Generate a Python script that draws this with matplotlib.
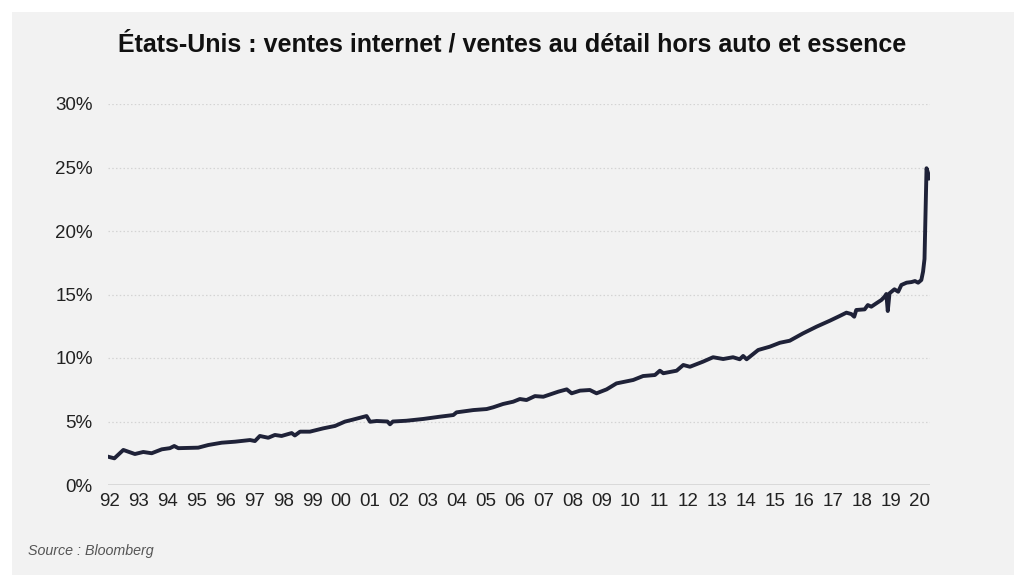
import matplotlib.pyplot as plt
from matplotlib.patches import Rectangle

# monthly-ish readings: decimal year, share of internet sales in %
dates = [1992.00, 1992.22, 1992.53, 1992.93, 1993.22, 1993.51, 1993.86, 1994.14, 1994.29, 1994.43,
         1995.12, 1995.47, 1995.93, 1996.39, 1996.91, 1997.08, 1997.25, 1997.54, 1997.77, 1998.00,
         1998.35, 1998.46, 1998.64, 1998.98, 1999.44, 1999.85, 2000.19, 2000.42, 2000.94, 2001.06,
         2001.29, 2001.66, 2001.75, 2001.85, 2002.32, 2002.90, 2003.48, 2003.94, 2004.05, 2004.63,
         2005.09, 2005.32, 2005.66, 2006.01, 2006.24, 2006.47, 2006.76, 2007.05, 2007.57, 2007.86,
         2008.03, 2008.32, 2008.66, 2008.89, 2009.24, 2009.58, 2010.16, 2010.50, 2010.91, 2011.08,
         2011.20, 2011.66, 2011.89, 2012.12, 2012.57, 2012.92, 2013.27, 2013.61, 2013.84, 2013.96,
         2014.08, 2014.48, 2014.88, 2015.23, 2015.57, 2016.03, 2016.50, 2016.96, 2017.30, 2017.53,
         2017.70, 2017.80, 2017.87, 2018.16, 2018.27, 2018.39, 2018.56, 2018.74, 2018.85, 2018.91,
         2018.96, 2019.02, 2019.19, 2019.32, 2019.43, 2019.61, 2019.78, 2019.90, 2020.01, 2020.12,
         2020.18, 2020.23, 2020.30, 2020.41]
share = [2.23, 2.10, 2.76, 2.44, 2.60, 2.50, 2.81, 2.90, 3.07, 2.90,
         2.94, 3.15, 3.33, 3.41, 3.54, 3.46, 3.86, 3.72, 3.94, 3.86,
         4.09, 3.90, 4.20, 4.20, 4.46, 4.65, 4.99, 5.12, 5.43, 4.98,
         5.04, 5.00, 4.78, 5.00, 5.06, 5.20, 5.38, 5.51, 5.72, 5.90,
         5.98, 6.12, 6.38, 6.56, 6.77, 6.69, 7.00, 6.95, 7.35, 7.53,
         7.22, 7.43, 7.48, 7.22, 7.53, 8.00, 8.27, 8.58, 8.66, 9.00,
         8.80, 9.00, 9.45, 9.31, 9.71, 10.06, 9.92, 10.06, 9.90, 10.16,
         9.90, 10.63, 10.89, 11.20, 11.36, 11.94, 12.47, 12.94, 13.31, 13.57,
         13.46, 13.25, 13.78, 13.83, 14.17, 14.04, 14.30, 14.57, 14.83, 15.04,
         13.70, 15.09, 15.41, 15.22, 15.75, 15.93, 15.98, 16.06, 15.93, 16.14,
         16.80, 17.80, 24.94, 24.15]

years = list(range(1992, 2021))
year_labels = ["%02d" % (y % 100) for y in years]
y_ticks = [0, 5, 10, 15, 20, 25, 30]

bg = "#f2f2f2"
plt.rcParams["font.family"] = ["Liberation Sans", "DejaVu Sans"]

fig = plt.figure(figsize=(10.24, 5.82), dpi=100, facecolor="white")
# grey card behind the chart
fig.patches.append(Rectangle((12 / 1024, 1 - 575 / 582), 1002 / 1024, 563 / 582,
                             transform=fig.transFigure, facecolor=bg, edgecolor="none", zorder=-1))

ax = fig.add_axes([108 / 1024, 1 - 485 / 582, 822 / 1024, 381 / 582])
ax.set_facecolor(bg)
ax.plot(dates, share, color="#1f2238", linewidth=2.8, solid_joinstyle="round")

ax.set_xlim(1992.0, 2020.42)
ax.set_ylim(0, 30)
ax.set_xticks([y + 0.06 for y in years])
ax.set_xticklabels(year_labels)
ax.set_yticks(y_ticks)
ax.set_yticklabels(["%d%%" % v for v in y_ticks])
ax.tick_params(length=0, labelsize=13.5, colors="#222222")
ax.tick_params(axis="x", pad=6)
ax.tick_params(axis="y", pad=11)
for s in ax.spines.values():
    s.set_visible(False)
for v in y_ticks[1:]:
    ax.axhline(v, color="#d4d4d4", linewidth=0.9, linestyle=(0, (1.2, 1.8)), zorder=0)
ax.axhline(0, color="#d4d4d4", linewidth=1.2, zorder=0)

fig.text(0.5, 1 - 45 / 582, "États-Unis : ventes internet / ventes au détail hors auto et essence",
         ha="center", va="center", fontsize=18, fontweight="bold", color="#111111")
fig.text(28 / 1024, 1 - 551 / 582, "Source : Bloomberg", ha="left", va="center",
         fontsize=10.3, style="italic", color="#555555")

fig.savefig("out.png", dpi=100, facecolor="white")
